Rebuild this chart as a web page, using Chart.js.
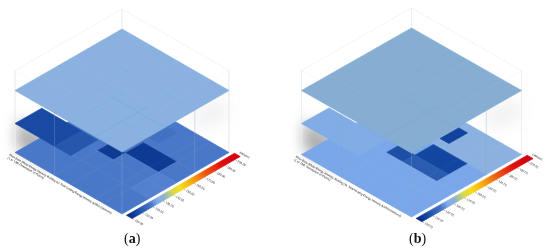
<!DOCTYPE html>
<html>
<head>
<meta charset="utf-8">
<style>
  html, body { margin: 0; padding: 0; background: #fff; }
  canvas { display: block; }
</style>
<script src="https://cdn.jsdelivr.net/npm/chart.js@4/dist/chart.umd.min.js"></script>
</head>
<body>
<canvas id="chart" width="550" height="249"></canvas>
<script>
// plan zones, in fractions of the floor plate
const uEdges = [0, 0.37, 0.52, 0.75, 0.83, 1];
const vEdges = [0, 0.32, 0.49, 0.6, 0.75, 1];

// energy intensity per zone: one row per v band, one column per u band
const floorA1 = [
  [120, 120, 120, 120, 120],
  [120, 120, 104, 104, 120],
  [120, 104, 120, 120, 121],
  [120, 120, 120, 120, 121],
  [120, 120, 120, 120, 120]
];
const floorA2 = [
  [null, null, null, null, null],
  [null, null, null, 118, null],
  [null, null, null, null, null],
  [null, null, null, null, null],
  [108, 111, null, null, null]
];
const floorA3 = [
  [129, 129, 129, 129, 129],
  [129, 129, 129, 129, 129],
  [129, 129, 129, 129, 129],
  [129, 129, 129, 129, 129],
  [129, 129, 129, 129, 129]
];
const floorB1 = [
  [129, 129, 129, 129, 129],
  [125, 125, 107, 107, 125],
  [125, 109, 112, 112, 125],
  [125, 125, 125, 125, 125],
  [125, 125, 125, 125, 125]
];
const floorB2 = [
  [null, null, null, null, null],
  [null, null, null, 106, null],
  [null, null, null, null, null],
  [null, null, null, null, null],
  [127, 127, null, null, null]
];
const floorB3 = [
  [131, 131, 131, 131, 131],
  [131, 131, 131, 131, 131],
  [131, 131, 131, 131, 131],
  [131, 131, 131, 131, 131],
  [131, 131, 131, 131, 131]
];

const ticksA = ['100.00', '110.00', '120.00', '130.00', '140.00', '150.00', '160.00', '170.00', '180.00', '190.00', '200.00'];
const ticksB = ['100.00', '110.00', '120.00', '130.00', '140.00', '150.00', '160.00', '170.00', '180.00', '190.00', '200.00'];
const scaleMin = 100;
const scaleMax = 200;

const titleA = ['Floor Zone (Mean Energy Intensity, Building (a): Total Cooling Energy Intensity (kWh/m2/annum))', '(1 to 13th Orientation of Floors)'];
const titleB = ['Floor Zone (Mean Energy Intensity, Building (b): Total Heating Energy Intensity (kWh/m2/annum))', '(1 to 13th Orientation of Floors)'];
const unitLabel = 'kWh/m2';

// colour ramp of the legend
const rampStops = [0, 0.07, 0.12, 0.2, 0.25, 0.29, 0.31, 0.35, 0.4, 0.47, 0.58, 0.7, 0.85, 1];
const rampColors = ['#082a85', '#1346a0', '#2a5cb0', '#4a78c8', '#7aa6ea', '#8ab1df', '#86aed3', '#a5c0a8', '#d5d850', '#f7dc18', '#f5a80f', '#ee5a10', '#e01010', '#d00010'];

function hexRgb(h) {
  return [1, 3, 5].map(i => parseInt(h.substr(i, 2), 16));
}

function colorFor(value) {
  const t = (value - scaleMin) / (scaleMax - scaleMin);
  let i = 0;
  while (i < rampStops.length - 2 && t > rampStops[i + 1]) i++;
  const k = Math.max(0, Math.min(1, (t - rampStops[i]) / (rampStops[i + 1] - rampStops[i])));
  const a = hexRgb(rampColors[i]), b = hexRgb(rampColors[i + 1]);
  return 'rgb(' + a.map((c, n) => Math.round(c + (b[n] - c) * k)).join(',') + ')';
}

// isometric set-up of each panel
const panelA = { ox: 122, oy: 29, hw: 107, hh: 61.5, levels: [62, 33, 0, -20], floors: [floorA1, floorA2, floorA3], ticks: ticksA, title: titleA, tag: 'a', tagX: 124 };
const panelB = { ox: 411.5, oy: 28, hw: 110, hh: 62.5, levels: [64, 33, 0, -20], floors: [floorB1, floorB2, floorB3], ticks: ticksB, title: titleB, tag: 'b', tagX: 409 };

function project(p, u, v, level) {
  return { x: p.ox + (u - v) * p.hw, y: p.oy + (u + v) * p.hh + p.levels[level] };
}

function quad(p, u0, u1, v0, v1, level) {
  return [project(p, u0, v0, level), project(p, u1, v0, level), project(p, u1, v1, level), project(p, u0, v1, level), project(p, u0, v0, level)];
}

function polygon(points, color) {
  return { data: points, showLine: true, fill: 'shape', backgroundColor: color, borderColor: color, borderWidth: 0.7, pointRadius: 0, tension: 0 };
}

function wire(points, color, width) {
  return { data: points, showLine: true, fill: false, borderColor: color, borderWidth: width || 0.6, pointRadius: 0, tension: 0 };
}

const ctx = document.getElementById('chart').getContext('2d');

function floorSets(p, level) {
  const out = [];
  p.floors[level].forEach((row, j) => row.forEach((value, i) => {
    if (value === null) return;
    out.push(polygon(quad(p, uEdges[i], uEdges[i + 1], vEdges[j], vEdges[j + 1], level), colorFor(value)));
  }));
  return out;
}

function panelSets(p) {
  const grey = '#ececec';
  const inner = 'rgba(150,170,200,0.22)';
  const sets = [];
  // box behind the floors
  sets.push(wire([project(p, 0, 1, 3), project(p, 0, 0, 3), project(p, 1, 0, 3)], grey));
  sets.push(wire([project(p, 0, 1, 3), project(p, 0, 1, 0)], grey));
  sets.push(wire([project(p, 1, 0, 3), project(p, 1, 0, 0)], grey));
  sets.push(wire([project(p, 0, 0, 3), project(p, 0, 0, 2)], grey));
  sets.push(...floorSets(p, 0));
  sets.push(...floorSets(p, 1));
  // zone columns, seen through the floors
  sets.push(wire([project(p, 1, vEdges[1], 2), project(p, 1, vEdges[1], 0)], inner));
  sets.push(wire([project(p, uEdges[1], 1, 2), project(p, uEdges[1], 1, 0)], inner));
  sets.push(wire([project(p, 1, 1, 2), project(p, 1, 1, 0)], inner));
  sets.push(...floorSets(p, 2));
  // roof zone lines
  [uEdges[1], uEdges[3]].forEach(u => sets.push(wire([project(p, u, 0, 2), project(p, u, 1, 2)], 'rgba(90,130,180,0.17)')));
  [vEdges[1], vEdges[3]].forEach(v => sets.push(wire([project(p, 0, v, 2), project(p, 1, v, 2)], 'rgba(90,130,180,0.17)')));
  // front of the box, faint
  sets.push(wire([project(p, 0, 1, 3), project(p, 1, 1, 3), project(p, 1, 0, 3)], 'rgba(180,190,205,0.12)'));
  sets.push(legendBar(p));
  return sets;
}

function legendBar(p) {
  const a = project(p, 1.058, 0.99, 0), b = project(p, 1.058, -0.02, 0);
  const g = ctx.createLinearGradient(a.x, a.y, b.x, b.y);
  rampStops.forEach((s, i) => g.addColorStop(s, rampColors[i]));
  const pts = [project(p, 1.032, 0.99, 0), project(p, 1.032, -0.02, 0), project(p, 1.085, -0.02, 0), project(p, 1.085, 0.99, 0), project(p, 1.032, 0.99, 0)];
  return polygon(pts, g);
}

// soft grey shadow thrown on the wall behind the second floor
const shadowPlugin = {
  id: 'wallShadow',
  beforeDatasetsDraw(chart) {
    const c = chart.ctx;
    [panelA, panelB].forEach(p => {
      c.save();
      c.filter = 'blur(7px)';
      c.fillStyle = 'rgba(60,60,60,0.42)';
      const left = project(p, 0, 1, 0), upper = project(p, 0, 1, 1), mid = project(p, 0.42, 1, 0);
      c.beginPath();
      c.moveTo(left.x + 2, upper.y - 4);
      c.lineTo(upper.x + 36, upper.y + 16);
      c.lineTo(mid.x, mid.y - 8);
      c.lineTo(left.x + 2, left.y - 4);
      c.closePath();
      c.fill();
      c.filter = 'blur(8px)';
      c.fillStyle = 'rgba(70,70,70,0.07)';
      const r = project(p, 1, 0, 2);
      c.beginPath();
      c.moveTo(r.x - 42, r.y + 20);
      c.lineTo(r.x - 2, r.y + 6);
      c.lineTo(r.x - 2, r.y + 32);
      c.lineTo(r.x - 30, r.y + 38);
      c.closePath();
      c.fill();
      c.restore();
    });
  }
};

// axis title, legend ticks and (a)/(b) captions
const textPlugin = {
  id: 'panelText',
  afterDatasetsDraw(chart) {
    const c = chart.ctx;
    [panelA, panelB].forEach(p => {
      c.save();
      const angle = Math.atan2(p.hh, p.hw);
      // title under the lower-left edge
      const t0 = project(p, -0.015, 1.03, 0);
      c.translate(t0.x, t0.y);
      c.rotate(angle);
      c.fillStyle = '#111';
      c.font = '3px "Liberation Sans"';
      c.textBaseline = 'top';
      p.title.forEach((line, i) => c.fillText(line, 0, i * 3.4, p.hw * 1.1));
      c.restore();

      // legend ticks and labels
      c.font = '3px "Liberation Sans"';
      p.ticks.forEach((label, i) => {
        const v = 0.99 - (i / (p.ticks.length - 1)) * 0.96;
        const a = project(p, 1.088, v, 0), b = project(p, 1.105, v, 0);
        c.strokeStyle = '#666';
        c.lineWidth = 0.4;
        c.beginPath();
        c.moveTo(a.x, a.y);
        c.lineTo(b.x, b.y);
        c.stroke();
        c.save();
        c.translate(b.x + 0.5, b.y + 0.3);
        c.rotate(angle);
        c.fillStyle = '#222';
        c.textBaseline = 'middle';
        c.fillText(label, 0, 0);
        c.restore();
      });
      const u = project(p, 1.05, -0.05, 0);
      c.save();
      c.translate(u.x, u.y);
      c.rotate(angle);
      c.fillStyle = '#222';
      c.textBaseline = 'middle';
      c.fillText(unitLabel, 0, 0);
      c.restore();

      // caption
      c.fillStyle = '#111';
      c.textBaseline = 'alphabetic';
      c.textAlign = 'left';
      let x = p.tagX;
      const y = 243;
      c.font = '14px "Liberation Serif"';
      c.fillText('(', x, y); x += c.measureText('(').width;
      c.font = 'bold 14px "Liberation Serif"';
      c.fillText(p.tag, x, y); x += c.measureText(p.tag).width;
      c.font = '14px "Liberation Serif"';
      c.fillText(')', x, y);
    });
  }
};

const datasets = panelSets(panelA).concat(panelSets(panelB));
datasets.forEach((d, i) => { d.order = -i; });

new Chart(ctx, {
  type: 'scatter',
  data: { datasets: datasets },
  options: {
    responsive: false,
    animation: false,
    layout: { padding: 0 },
    plugins: { legend: { display: false }, tooltip: { enabled: false } },
    scales: {
      x: { type: 'linear', min: 0, max: 550, display: false },
      y: { type: 'linear', min: 0, max: 249, reverse: true, display: false }
    }
  },
  plugins: [shadowPlugin, textPlugin]
});
</script>
</body>
</html>
